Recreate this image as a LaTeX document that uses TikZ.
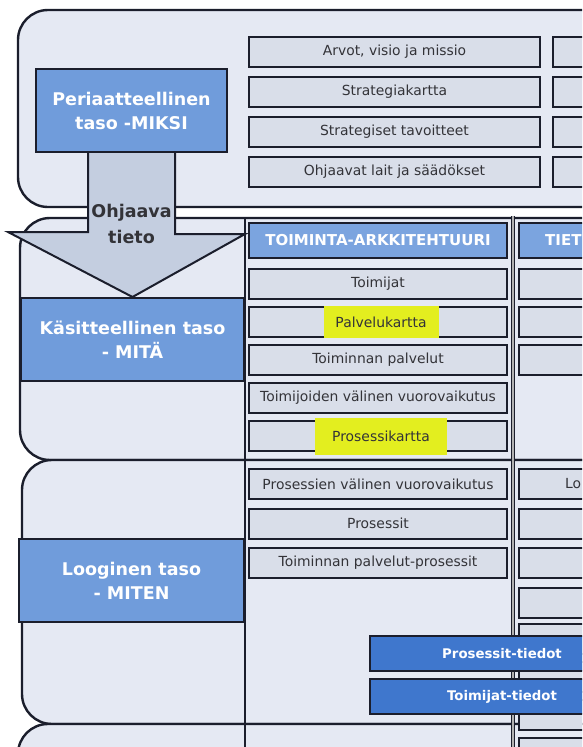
\documentclass[tikz,border=0pt]{standalone}
\usepackage{fontspec}
\setmainfont{DejaVu Sans}
\usetikzlibrary{positioning}

\definecolor{edge}{HTML}{1B1E2C}
\definecolor{lavender}{HTML}{E5E9F3}
\definecolor{cellgray}{HTML}{D9DEE9}
\definecolor{levelblue}{HTML}{709CDB}
\definecolor{headblue}{HTML}{7BA4DF}
\definecolor{datablue}{HTML}{3F77CD}
\definecolor{arrowgray}{HTML}{C4CEE0}
\definecolor{hiyellow}{HTML}{E3EE1F}
\definecolor{inktext}{HTML}{333338}

\begin{document}
\begin{tikzpicture}[
  x=1pt, y=-1pt,
  layer/.style={draw=edge, line width=2.4pt, fill=lavender, rounded corners=30pt},
  levelbox/.style={draw=edge, line width=2pt, fill=levelblue, text=white, inner sep=0pt, align=center, font=\bfseries\fontsize{17.5}{24}\selectfont},
  cell/.style={draw=edge, line width=2pt, fill=cellgray, inner sep=0pt, minimum height=30pt, text=inktext, font=\fontsize{13.9}{15}\selectfont},
  topcell/.style={cell, minimum width=291pt},
  colcell/.style={cell, minimum width=258pt},
  celltext/.style={inner sep=0pt, text=inktext, font=\fontsize{13.9}{15}\selectfont},
  headbox/.style={draw=edge, line width=2pt, fill=headblue, minimum width=258pt, minimum height=35pt, inner sep=0pt, text=white, font=\bfseries\fontsize{15}{17}\selectfont},
  headtext/.style={inner sep=0pt, text=white, font=\bfseries\fontsize{15}{17}\selectfont},
  databox/.style={draw=edge, line width=2pt, fill=datablue, minimum width=264pt, minimum height=35pt, inner sep=0pt, text=white, font=\bfseries\fontsize{13.3}{15}\selectfont},
  hilite/.style={fill=hiyellow, inner sep=0pt, minimum height=32pt, text=inktext, font=\fontsize{13.9}{15}\selectfont},
  gridline/.style={draw=edge, line width=2pt},
  sepline/.style={draw=edge, line width=1.5pt, double=gray!60, double distance=1.4pt},
  bigarrow/.style={draw=edge, line width=2pt, fill=arrowgray, line join=miter}
]
\useasboundingbox (0,0) rectangle (582,747);
\clip (0,0) rectangle (582,747);

% tasot
\draw[layer] (18,10) rectangle (760,207);
\draw[layer] (20,218) rectangle (760,460);
\draw[layer] (22,460) rectangle (760,724);
\draw[layer] (18,724) rectangle (760,900);

% sarakkeet
\draw[gridline] (245,218) -- (245,760);
\draw[sepline] (513,216) -- (513,760);

% periaatteellinen taso
\node[levelbox, minimum width=191pt, minimum height=83pt] (miksi) at (131.5,110.5) {Periaatteellinen\\taso -MIKSI};
\node[topcell] (arvot) at (394.5,52) {Arvot, visio ja missio};
\node[topcell, below=8pt of arvot] (skartta) {Strategiakartta};
\node[topcell, below=8pt of skartta] (stavoit) {Strategiset tavoitteet};
\node[topcell, below=8pt of stavoit] (lait) {Ohjaavat lait ja säädökset};
\foreach \n in {arvot,skartta,stavoit,lait}
  \node[topcell, right=11pt of \n] (\n2) {};

% käsitteellinen taso
\node[levelbox, minimum width=223pt, minimum height=83pt] (mita) at (132.5,339.5) {Käsitteellinen taso\\- MITÄ};
\node[headbox] (toiminta) at (378,240.5) {TOIMINTA-ARKKITEHTUURI};
\node[headbox, right=10pt of toiminta] (tieto) {};
\node[headtext, anchor=west] (tiettxt) at (545,240.5) {TIET};

\node[colcell, below=9pt of toiminta] (toimijat) {Toimijat};
\node[colcell, below=6pt of toimijat] (palvk) {};
\node[hilite, minimum width=115pt] (palvhl) at ([xshift=3pt]palvk.center) {Palvelukartta};
\node[colcell, below=6pt of palvk] (tpalv) {Toiminnan palvelut};
\node[colcell, below=6pt of tpalv] (vuoro) {Toimijoiden välinen vuorovaikutus};
\node[colcell, below=6pt of vuoro] (proskk) {};
\node[hilite, minimum width=132pt, minimum height=37pt] (proshl) at ([xshift=3pt]proskk.center) {Prosessikartta};
\foreach \n in {toimijat,palvk,tpalv}
  \node[colcell, right=10pt of \n] (\n2) {};

% looginen taso
\node[levelbox, minimum width=225pt, minimum height=83pt] (miten) at (131.5,580.5) {Looginen taso\\- MITEN};
\node[colcell] (pvuoro) at (378,484) {Prosessien välinen vuorovaikutus};
\node[colcell, below=7.5pt of pvuoro] (prosessit) {Prosessit};
\node[colcell, below=7.5pt of prosessit] (tppros) {Toiminnan palvelut-prosessit};
\foreach \n in {pvuoro,prosessit,tppros}
  \node[colcell, right=10pt of \n] (\n2) {};
\node[celltext, anchor=west] (lotxt) at (565,484) {Lo};
\node[colcell, below=7.5pt of tppros2] (tx1) {};
\node[colcell, below=4pt of tx1] (tx2) {};
\node[colcell, below=6pt of tx2] (tx3) {};
\node[colcell, below=6pt of tx3] (tx4) {};
\node[colcell, below=6pt of tx4] (tx5) {};

\node[databox] (prtiedot) at (502,653.5) {Prosessit-tiedot};
\node[databox, below=6pt of prtiedot] (totiedot) {Toimijat-tiedot};

% ohjaava tieto
\filldraw[bigarrow] ([xshift=-43.5pt]miksi.south) -- ++(0,79) -- ++(-80,0) -- (mita.north)
  -- ++(112.5,-63) -- ++(-70,0) -- ([xshift=43.5pt]miksi.south);
\node[align=center, text=inktext, font=\bfseries\fontsize{17.5}{26}\selectfont] (ohjaava) at (131.5,224) {Ohjaava\\tieto};
\end{tikzpicture}
\end{document}
